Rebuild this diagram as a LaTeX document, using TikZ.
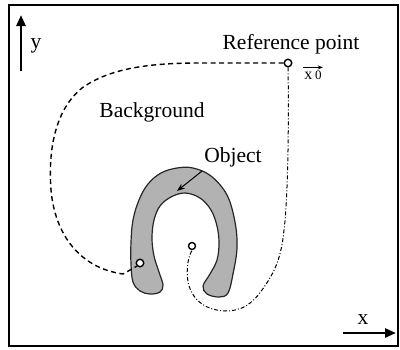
\documentclass[tikz,border=0pt]{standalone}
\usepackage{fontspec}
\setmainfont{Liberation Serif}
\usetikzlibrary{arrows.meta}
\begin{document}
\begin{tikzpicture}[x=1pt,y=-1pt,
  lbl/.style={inner sep=0pt,font=\fontsize{21.5}{24}\selectfont},
  pt/.style={circle,draw,line width=1.4pt,fill=white,inner sep=0pt,minimum size=7.5pt},
  axis/.style={line width=2.6pt,-{Triangle[length=11pt,width=9pt]}},
  dashpath/.style={line width=1.4pt,dash pattern=on 5pt off 3.5pt},
  dotdash/.style={line width=1pt,dash pattern=on 4pt off 2pt on 1pt off 2pt},
  objfill/.style={fill=black!30,draw=black!85,line width=1.2pt}]
\useasboundingbox (0,0) rectangle (400,349);
\draw[line width=1.5pt] (9,5) rectangle (398,346);
% axes
\coordinate (ya) at (21,71);
\coordinate (yb) at (21,15);
\draw[axis] (ya) -- (yb);
\node[lbl] (ylab) at (36,46) {y};
\coordinate (xa) at (343,333);
\coordinate (xb) at (396,333);
\draw[axis] (xa) -- (xb);
\node[lbl] (xlab) at (363,320) {x};
% object
\path[objfill] plot[smooth cycle,tension=0.6] coordinates {
 (133,282) (140,291) (150,294) (160,292) (163,285)
 (159,272) (154,256) (152,238) (154,220) (160,206) (171,197) (185,193)
 (200,198) (211,210) (217,226) (219,243) (217,260) (210,274) (203,286)
 (207,294) (219,297) (228,293) (233,274) (237,248) (235,222)
 (227,195) (211,176) (193,168) (177,168) (161,173) (148,184) (139,200)
 (133,220) (131,242) (131,264)};
% points
\node[pt] (ref) at (288,63) {};
\node[pt] (pin) at (140,263) {};
\node[pt,minimum size=7pt] (phole) at (192,246) {};
% paths
\draw[dashpath] (ref.west) -- (200,63) .. controls (150,63) and (110,68) .. (82,88)
  .. controls (55,110) and (48,150) .. (51,190)
  .. controls (55,235) and (80,268) .. (123,274) -- (pin.south west);
\draw[dotdash] (ref.south) .. controls (289,120) and (288,200) .. (284,230)
  .. controls (281,262) and (272,276) .. (262,290)
  .. controls (252,304) and (242,311) .. (225,311)
  .. controls (205,310) and (192,300) .. (188,282)
  .. controls (186,268) and (188,258) .. (phole.south);
% labels
\node[lbl] (reflab) at (291,44) {Reference point};
\node[lbl] (bg) at (152,112) {Background};
\node[lbl] (obj) at (233,157) {Object};
\coordinate (objtip) at (177,191);
\draw[line width=1pt,-{Stealth[length=8pt,width=6pt]}] (obj.south west) ++(-2,4) -- (objtip);
\node[inner sep=0pt,font=\fontsize{16}{18}\selectfont] (x0) at (313,75) {x\,\raisebox{0pt}{\fontsize{13}{14}\selectfont 0}};
\draw[line width=0.8pt,-{Stealth[length=5pt,width=4pt]}] ([yshift=3pt,xshift=-1pt]x0.north west) -- ([yshift=3pt,xshift=1pt]x0.north east);
\end{tikzpicture}
\end{document}
